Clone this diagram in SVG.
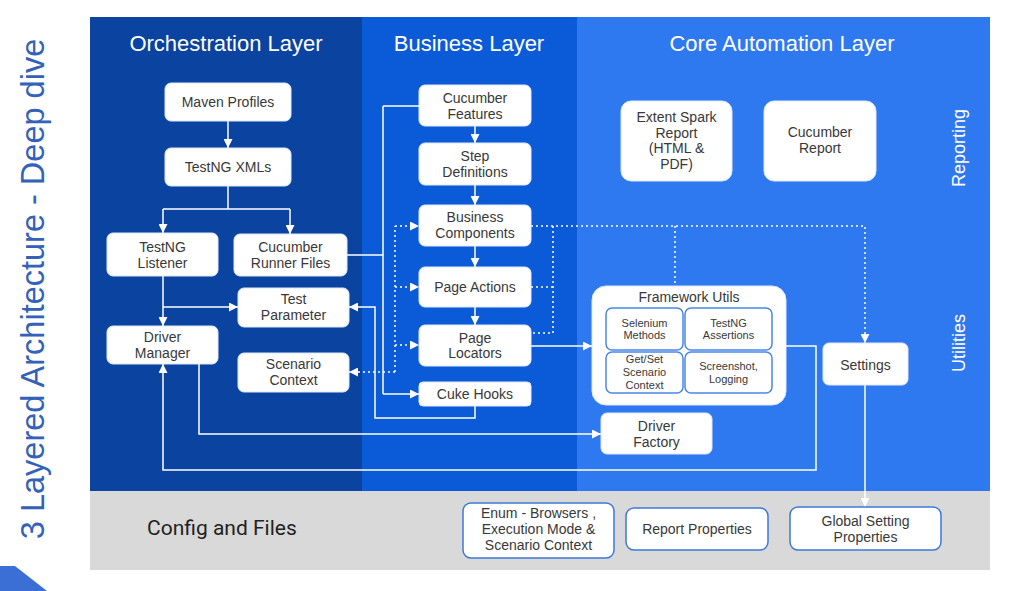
<svg xmlns="http://www.w3.org/2000/svg" width="1011" height="591" viewBox="0 0 1011 591">
<defs>
<marker id="ah" viewBox="0 0 10 10" refX="10" refY="5" markerWidth="10" markerHeight="9" markerUnits="userSpaceOnUse" orient="auto"><path d="M0,0 L10,5 L0,10 z" fill="#ffffff"/></marker>
<style>
.node rect.b{fill:#ffffff;stroke:#dce8fc;stroke-width:1}
.t{font-family:"Liberation Sans",Arial,sans-serif;font-size:14px;fill:#383838;text-anchor:middle}
.s{font-family:"Liberation Sans",Arial,sans-serif;font-size:11px;fill:#383838;text-anchor:middle}
.hd{font-family:"Liberation Sans",Arial,sans-serif;font-size:22px;fill:#ffffff;text-anchor:middle}
.side{font-family:"Liberation Sans",Arial,sans-serif;font-size:18px;fill:#ffffff;text-anchor:middle}
.in{fill:#ffffff;stroke:#4a86e8;stroke-width:1.5}
.cf{fill:#ffffff;stroke:#3c78d8;stroke-width:1.5}
.ln{fill:none;stroke:#ffffff;stroke-width:1.5}
.dt{fill:none;stroke:#ffffff;stroke-width:1.5;stroke-dasharray:2 3}
</style>
</defs>
<rect x="0" y="0" width="1011" height="591" fill="#ffffff"/>
<!-- panels -->
<rect x="90" y="17" width="272" height="474" fill="#0a43a0"/>
<rect x="362" y="17" width="215" height="474" fill="#0b5bd9"/>
<rect x="577" y="17" width="413" height="474" fill="#2f79f0"/>
<rect x="90" y="491" width="900" height="79" fill="#d9d9d9"/>
<polygon points="0,566 15,566 47,591 0,591" fill="#3b6fd6"/>
<text transform="translate(44,289) rotate(-90)" font-family="Liberation Sans, Arial, sans-serif" font-size="32.5" fill="#3362b8" text-anchor="middle">3 Layered Architecture - Deep dive</text>
<text class="hd" x="226" y="51">Orchestration Layer</text>
<text class="hd" x="469" y="51">Business Layer</text>
<text class="hd" x="782" y="51">Core Automation Layer</text>
<text class="side" transform="translate(965,148) rotate(-90)">Reporting</text>
<text class="side" transform="translate(965,343) rotate(-90)">Utilities</text>
<text x="147" y="535" font-family="Roboto, Arial, sans-serif" font-size="21" fill="#222222">Config and Files</text>

<g id="connectors">
<path class="ln" d="M228,121 V148" marker-end="url(#ah)"/>
<path class="ln" d="M228,186 V209 M163,209 H290"/>
<path class="ln" d="M163,209 V233" marker-end="url(#ah)"/>
<path class="ln" d="M290,209 V234" marker-end="url(#ah)"/>
<path class="ln" d="M163,276 V326" marker-end="url(#ah)"/>
<path class="ln" d="M163,307 H238" marker-end="url(#ah)"/>
<path class="ln" d="M347,255 H383 M383,106 H419 M383,106 V394"/>
<path class="ln" d="M383,394 H419" marker-end="url(#ah)"/>
<path class="ln" d="M475,406 V418 H375 V307 H349" marker-end="url(#ah)"/>
<path class="ln" d="M475,126 V143" marker-end="url(#ah)"/>
<path class="ln" d="M475,185 V205" marker-end="url(#ah)"/>
<path class="ln" d="M475,246 V267" marker-end="url(#ah)"/>
<path class="ln" d="M475,307 V325" marker-end="url(#ah)"/>
<path class="dt" d="M395,372 V226"/>
<path class="dt" d="M395,226 H419" marker-end="url(#ah)"/>
<path class="dt" d="M395,287 H419" marker-end="url(#ah)"/>
<path class="dt" d="M395,345 H419" marker-end="url(#ah)"/>
<path class="dt" d="M395,372 H349" marker-end="url(#ah)"/>
<path class="ln" d="M531,346 H592" marker-end="url(#ah)"/>
<path class="dt" d="M531,226 H865 V343" marker-end="url(#ah)"/>
<path class="dt" d="M553,226 V333 H531 M531,287 H553 M675,226 V286"/>
<path class="ln" d="M199,364 V434 H601" marker-end="url(#ah)"/>
<path class="ln" d="M786,346 H816 V470 H163 V364" marker-end="url(#ah)"/>
<path class="ln" d="M865,385 V507" marker-end="url(#ah)"/>
</g>

<g id="maven-profiles" class="node"><rect class="b" x="165" y="83" width="126" height="38" rx="6"/><text class="t" x="228" y="107">Maven Profiles</text></g>
<g id="testng-xmls" class="node"><rect class="b" x="165" y="148" width="126" height="38" rx="6"/><text class="t" x="228" y="172">TestNG XMLs</text></g>
<g id="testng-listener" class="node"><rect class="b" x="107" y="233" width="111" height="43" rx="6"/><text class="t" x="162.5" y="252">TestNG<tspan x="162.5" y="268">Listener</tspan></text></g>
<g id="cucumber-runner" class="node"><rect class="b" x="234" y="234" width="113" height="42" rx="6"/><text class="t" x="290.5" y="252">Cucumber<tspan x="290.5" y="268">Runner Files</tspan></text></g>
<g id="test-parameter" class="node"><rect class="b" x="238" y="288" width="111" height="39" rx="6"/><text class="t" x="293.5" y="304">Test<tspan x="293.5" y="320">Parameter</tspan></text></g>
<g id="driver-manager" class="node"><rect class="b" x="107" y="326" width="111" height="38" rx="6"/><text class="t" x="162.5" y="342">Driver<tspan x="162.5" y="358">Manager</tspan></text></g>
<g id="scenario-context" class="node"><rect class="b" x="238" y="353" width="111" height="39" rx="6"/><text class="t" x="293.5" y="369">Scenario<tspan x="293.5" y="385">Context</tspan></text></g>

<g id="cucumber-features" class="node"><rect class="b" x="419" y="85" width="112" height="41" rx="6"/><text class="t" x="475" y="103">Cucumber<tspan x="475" y="119">Features</tspan></text></g>
<g id="step-definitions" class="node"><rect class="b" x="419" y="143" width="112" height="42" rx="6"/><text class="t" x="475" y="161">Step<tspan x="475" y="177">Definitions</tspan></text></g>
<g id="business-components" class="node"><rect class="b" x="419" y="205" width="112" height="41" rx="6"/><text class="t" x="475" y="222">Business<tspan x="475" y="238">Components</tspan></text></g>
<g id="page-actions" class="node"><rect class="b" x="419" y="267" width="112" height="40" rx="6"/><text class="t" x="475" y="292">Page Actions</text></g>
<g id="page-locators" class="node"><rect class="b" x="419" y="325" width="112" height="41" rx="6"/><text class="t" x="475" y="343">Page<tspan x="475" y="358">Locators</tspan></text></g>
<g id="cuke-hooks" class="node"><rect class="b" x="419" y="382" width="112" height="24" rx="4"/><text class="t" x="475" y="399">Cuke Hooks</text></g>

<g id="extent-report" class="node"><rect class="b" x="621" y="101" width="111" height="80" rx="10"/><text class="t" x="676.5" y="122">Extent Spark<tspan x="676.5" y="138">Report</tspan><tspan x="676.5" y="153">(HTML &amp;</tspan><tspan x="676.5" y="169">PDF)</tspan></text></g>
<g id="cucumber-report" class="node"><rect class="b" x="764" y="101" width="112" height="80" rx="10"/><text class="t" x="820" y="137">Cucumber<tspan x="820" y="153">Report</tspan></text></g>

<g id="framework-utils" class="node"><rect class="b" x="592" y="286" width="194" height="119" rx="14"/><text class="t" x="689" y="302">Framework Utils</text>
<rect class="in" x="606" y="308" width="77" height="42" rx="6"/><text class="s" x="644.5" y="327">Selenium<tspan x="644.5" y="339">Methods</tspan></text>
<rect class="in" x="685" y="308" width="87" height="42" rx="6"/><text class="s" x="728.5" y="327">TestNG<tspan x="728.5" y="339">Assertions</tspan></text>
<rect class="in" x="606" y="352" width="77" height="41" rx="6"/><text class="s" x="644.5" y="363">Get/Set<tspan x="644.5" y="376">Scenario</tspan><tspan x="644.5" y="389">Context</tspan></text>
<rect class="in" x="685" y="352" width="87" height="41" rx="6"/><text class="s" x="728.5" y="370">Screenshot,<tspan x="728.5" y="383">Logging</tspan></text>
</g>
<g id="driver-factory" class="node"><rect class="b" x="601" y="413" width="111" height="41" rx="6"/><text class="t" x="656.5" y="431" font-size="14.5">Driver<tspan x="656.5" y="447">Factory</tspan></text></g>
<g id="settings" class="node"><rect class="b" x="823" y="343" width="85" height="42" rx="6"/><text class="t" x="865.5" y="370">Settings</text></g>

<g id="enum" class="node"><rect class="cf" x="463" y="503" width="151" height="55" rx="8"/><text class="t" x="538.5" y="518">Enum - Browsers ,<tspan x="538.5" y="534">Execution Mode &amp;</tspan><tspan x="538.5" y="550">Scenario Context</tspan></text></g>
<g id="report-properties" class="node"><rect class="cf" x="626" y="508" width="142" height="42" rx="8"/><text class="t" x="697" y="534">Report Properties</text></g>
<g id="global-settings" class="node"><rect class="cf" x="790" y="507" width="151" height="43" rx="8"/><text class="t" x="865.5" y="526">Global Setting<tspan x="865.5" y="542">Properties</tspan></text></g>
</svg>
